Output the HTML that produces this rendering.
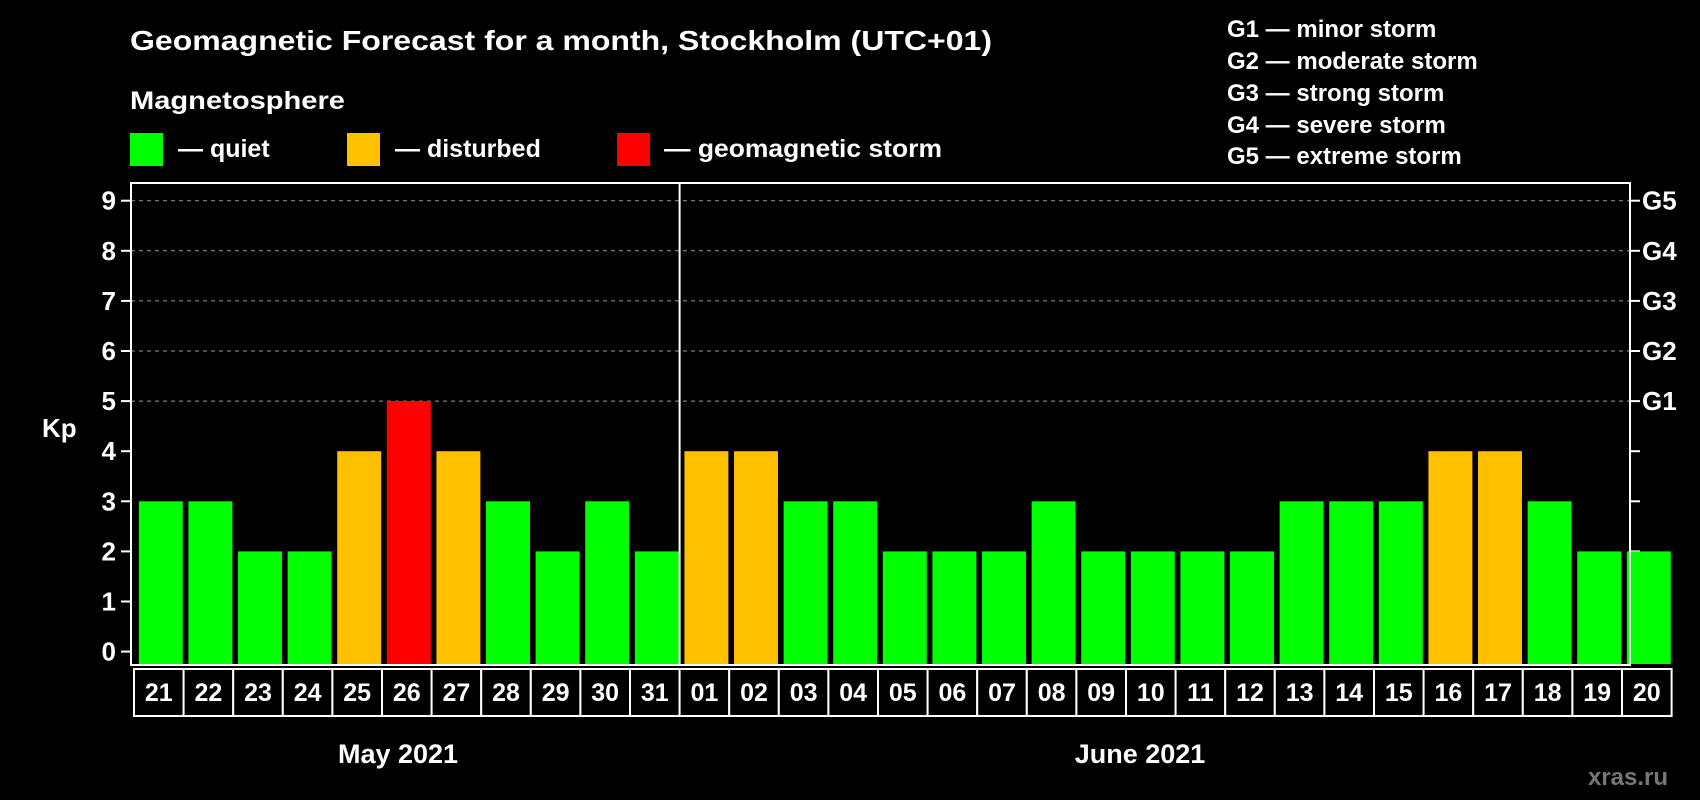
<!DOCTYPE html>
<html><head><meta charset="utf-8"><style>
html,body{margin:0;padding:0;background:#000;}
svg{display:block;font-family:"Liberation Sans",Arial,sans-serif;font-weight:bold;}
</style></head><body>
<svg id="chart" width="1700" height="800" viewBox="0 0 1700 800">
<rect x="0" y="0" width="1700" height="800" fill="#000"/>
<text x="130" y="50" fill="#fff" font-size="28" textLength="862" lengthAdjust="spacingAndGlyphs">Geomagnetic Forecast for a month, Stockholm (UTC+01)</text>
<text x="130" y="109" fill="#fff" font-size="25" textLength="215" lengthAdjust="spacingAndGlyphs">Magnetosphere</text>
<g>
<rect x="130" y="133" width="33" height="33" fill="#00ff00"/>
<text x="178" y="157" fill="#fff" font-size="25">— quiet</text>
<rect x="347" y="133" width="33" height="33" fill="#ffc000"/>
<text x="395" y="157" fill="#fff" font-size="25">— disturbed</text>
<rect x="617" y="133" width="33" height="33" fill="#ff0000"/>
<text x="664" y="157" fill="#fff" font-size="25" textLength="278" lengthAdjust="spacingAndGlyphs">— geomagnetic storm</text>
</g>
<g font-size="24" fill="#fff">
<text x="1227" y="37">G1 — minor storm</text>
<text x="1227" y="69">G2 — moderate storm</text>
<text x="1227" y="101">G3 — strong storm</text>
<text x="1227" y="133">G4 — severe storm</text>
<text x="1227" y="164">G5 — extreme storm</text>
</g>
<text x="42" y="437" fill="#fff" font-size="26">Kp</text>
<g id="plot"></g>
<text x="398" y="763" fill="#fff" font-size="27" text-anchor="middle">May 2021</text>
<text x="1140" y="763" fill="#fff" font-size="27" text-anchor="middle">June 2021</text>
<text x="1668" y="785" fill="#777" font-size="24" text-anchor="end">xras.ru</text>
</svg>
<script>
const days = ["21","22","23","24","25","26","27","28","29","30","31","01","02","03","04","05","06","07","08","09","10","11","12","13","14","15","16","17","18","19","20"];
const kp = [3,3,2,2,4,5,4,3,2,3,2,4,4,3,3,2,2,2,3,2,2,2,2,3,3,3,4,4,3,2,2];
const yTicks = [0,1,2,3,4,5,6,7,8,9];
const gLabels = ["","","","","","G1","G2","G3","G4","G5"];
const monthBreakIndex = 11;

const NS = "http://www.w3.org/2000/svg";
const plot = document.getElementById("plot");
const L = 131, R = 1630, T = 183, B = 665;
const bandL = 136, bandR = 1624 + 49.6;
const n = days.length;
const step = (bandR - bandL) / n;
const barW = step * 0.886;
function xPos(i){ return bandL + i * step; }
function yPos(v){ return 651.6 - v * 50.1; }
function mk(tag, attrs){ const e = document.createElementNS(NS, tag); for (const k in attrs) e.setAttribute(k, attrs[k]); plot.appendChild(e); return e; }
function color(v){ return v >= 5 ? "#ff0000" : (v >= 4 ? "#ffc000" : "#00ff00"); }

// grid + ticks
yTicks.forEach((t, k) => {
  const y = yPos(t);
  if (t >= 5) {
    const g = mk("line", {x1: L, x2: R, y1: y, y2: y, stroke: "#999", "stroke-width": 1, "stroke-dasharray": "4,4"});
    
    
  }
  const tl = mk("line", {x1: L - 10, x2: L, y1: y, y2: y, stroke: "#fff", "stroke-width": 2});
  
  
  const tr = mk("line", {x1: R, x2: R + 10, y1: y, y2: y, stroke: "#fff", "stroke-width": 2});
  
  
  const lab = mk("text", {x: 116, y: y + 9, fill: "#fff", "font-size": 26, "text-anchor": "end"});
  lab.textContent = String(t);
  
  
  if (gLabels[k]) {
    const gl = mk("text", {x: 1642, y: y + 9, fill: "#fff", "font-size": 26});
    gl.textContent = gLabels[k];
    
    
  }
});

// bars
kp.forEach((v, i) => {
  const x = xPos(i) + (step - barW) / 2;
  const b = mk("rect", {x: x, y: yPos(v), width: barW, height: B - 1 - yPos(v), fill: color(v)});
  
  
});

// frame
const fr = mk("rect", {x: L, y: T, width: R - L, height: B - T, fill: "none", stroke: "#fff", "stroke-width": 2});


const dx = xPos(monthBreakIndex) - 2;
const dv = mk("line", {x1: dx, x2: dx, y1: T, y2: B, stroke: "#fff", "stroke-width": 2});



// day label boxes
days.forEach((d, i) => {
  const x = xPos(i) - 2;
  const r = mk("rect", {x: x, y: 669, width: step, height: 47, fill: "#000", stroke: "#fff", "stroke-width": 2});
  
  
  const t = mk("text", {x: x + step / 2, y: 701, fill: "#fff", "font-size": 25, "text-anchor": "middle"});
  t.textContent = d;
  
  
});
</script>
</body></html>
